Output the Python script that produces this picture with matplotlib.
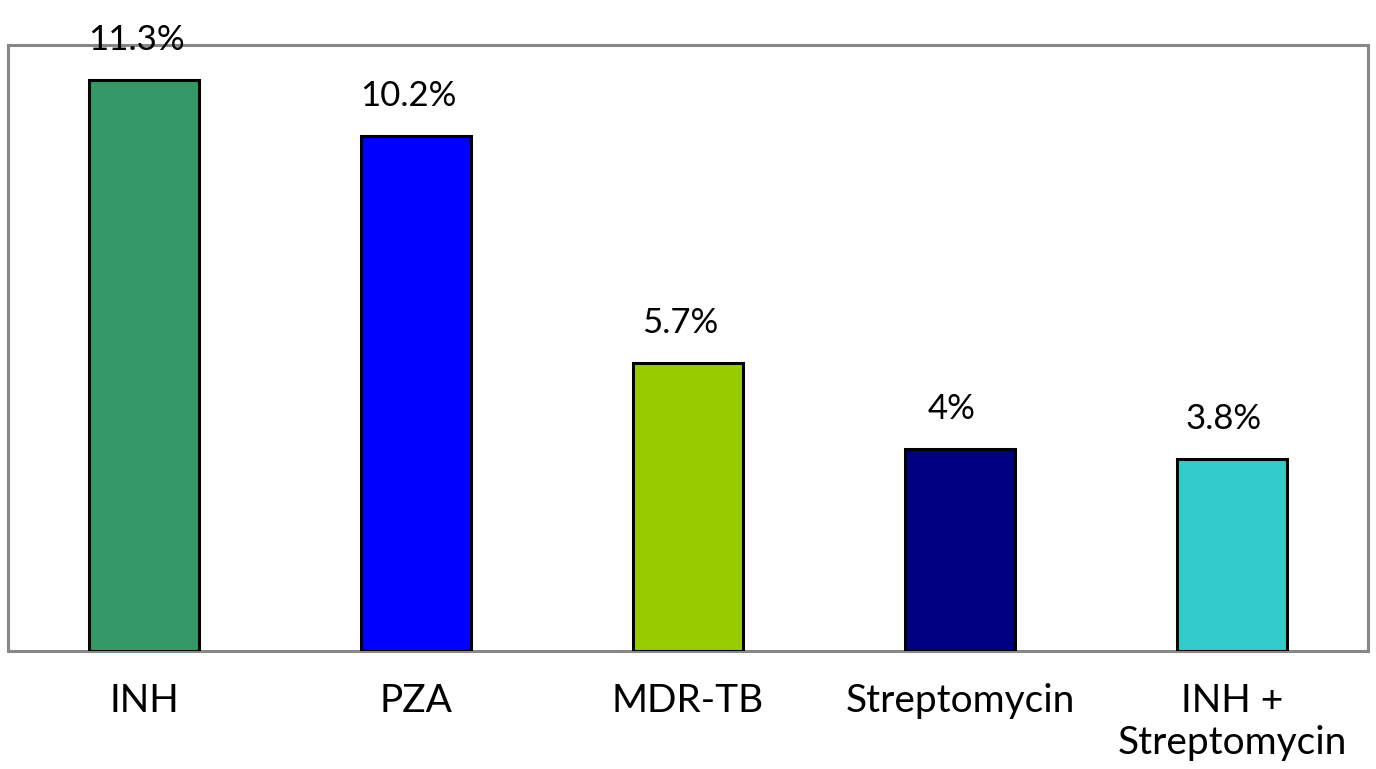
"""Drug resistance bar chart."""

import matplotlib
matplotlib.use("Agg")
import matplotlib.pyplot as plt

categories = ["INH", "PZA", "MDR-TB", "Streptomycin", "INH +\nStreptomycin"]
values = [11.3, 10.2, 5.7, 4, 3.8]
valueLabels = ["11.3%", "10.2%", "5.7%", "4%", "3.8%"]
barColors = ["#339966", "#0000FF", "#99CC00", "#000080", "#33CCCC"]

plt.rcParams["font.family"] = ["Lato", "DejaVu Sans"]

fig = plt.figure(figsize = (13.76, 7.69), dpi = 100)
ax = fig.add_axes([8 / 1376, 1 - 651 / 769, 1360 / 1376, 606 / 769])

positions = range(len(categories))
bars = ax.bar(positions, values, width = 0.405, color = barColors, edgecolor = "black", linewidth = 2.2, zorder = 3)

for bar, label in zip(bars, valueLabels):
    ax.annotate(label, (bar.get_x() + bar.get_width() / 2, bar.get_height()), xytext = (-8, 24),
                textcoords = "offset pixels", ha = "center", va = "bottom", fontsize = 25,
                annotation_clip = False, zorder = 5)

ax.set_xlim(-0.5, len(categories) - 0.5)
ax.set_ylim(0, 12)
ax.set_xticks(list(positions))
ax.set_xticklabels(categories, fontsize = 28, linespacing = 1.2)
ax.tick_params(axis = "x", length = 0, pad = 23)
ax.set_yticks([])

for spine in ax.spines.values():
    spine.set_color("#888888")
    spine.set_linewidth(2.2)

fig.savefig("out.png", dpi = 100)
